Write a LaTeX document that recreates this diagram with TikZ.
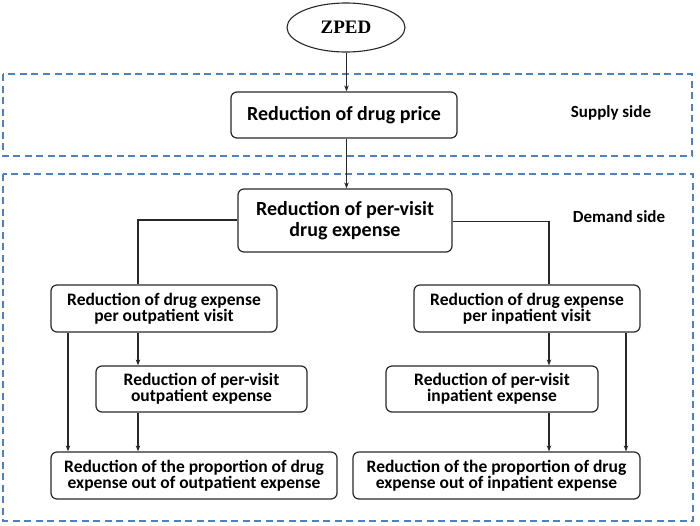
\documentclass[tikz,border=0pt]{standalone}
\usepackage{fontspec}
\setmainfont{Carlito}
\newfontfamily\zpedfont{Liberation Serif}
\usetikzlibrary{arrows.meta,shapes.geometric}
\definecolor{dashblue}{RGB}{79,129,189}
\definecolor{boxline}{RGB}{40,40,40}
\tikzset{
  every picture/.style={x=1pt,y=-1pt},
  stepbox/.style={draw=boxline,line width=1.2pt,rounded corners=6pt,inner sep=0pt,align=center,
    font=\fontsize{17.5}{14.5}\selectfont\bfseries},
  bigbox/.style={stepbox,font=\fontsize{20}{20.5}\selectfont\bfseries},
  region/.style={draw=dashblue,line width=1.3pt,dash pattern=on 7pt off 4.5pt},
  sidelabel/.style={font=\fontsize{17}{18}\selectfont\bfseries},
  conn/.style={draw=boxline,line width=1.1pt},
  arr/.style={conn,-{Stealth[length=6pt,width=4.5pt]}}
}
\begin{document}
\begin{tikzpicture}
\useasboundingbox (0,0) rectangle (700,525);
\fill[white] (0,0) rectangle (700,525);
% dashed regions
\draw[region] (3,74) rectangle (692,156);
\draw[region] (3,174) rectangle (693,521);
\node[sidelabel] (supply) at (611,113) {Supply side};
\node[sidelabel] (demand) at (619,217) {Demand side};
% nodes
\node[ellipse,draw=boxline,line width=1.1pt,minimum width=118pt,minimum height=49pt,inner sep=0pt,
  font=\fontsize{19}{20}\selectfont\zpedfont\bfseries] (zped) at (346,27.5) {ZPED};
\node[bigbox,minimum width=226pt,minimum height=46pt] (price) at (344,115) {Reduction of drug price};
\node[bigbox,minimum width=214pt,minimum height=63pt] (pervisit) at (345,220.5) {Reduction of per-visit\\drug expense};
\node[stepbox,minimum width=226pt,minimum height=47pt] (outvisit) at (164,308.5) {Reduction of drug expense\\per outpatient visit};
\node[stepbox,minimum width=226pt,minimum height=47pt] (invisit) at (527,308.5) {Reduction of drug expense\\per inpatient visit};
\node[stepbox,minimum width=211pt,minimum height=46pt] (outpv) at (201.5,389) {Reduction of per-visit\\outpatient expense};
\node[stepbox,minimum width=212pt,minimum height=46pt] (inpv) at (492,389) {Reduction of per-visit\\inpatient expense};
\node[stepbox,minimum width=286pt,minimum height=47pt] (outprop) at (194,475.5) {Reduction of the proportion of drug\\expense out of outpatient expense};
\node[stepbox,minimum width=287pt,minimum height=47pt] (inprop) at (496.5,475.5) {Reduction of the proportion of drug\\expense out of inpatient expense};
% helper x positions
\coordinate (llx) at (68,0);
\coordinate (lx) at (138,0);
\coordinate (rx) at (549,0);
\coordinate (rrx) at (626,0);
\coordinate (cx) at (346.5,0);
% connectors
\draw[arr] (zped.south -| cx) -- (price.north -| cx);
\draw[arr] (price.south -| cx) -- (pervisit.north -| cx);
\draw[conn] ([yshift=0.5pt]pervisit.west) -| (outvisit.north -| lx);
\draw[conn] ([yshift=-1pt]pervisit.east) -| (invisit.north -| rx);
\draw[arr] (outvisit.south -| lx) -- (outpv.north -| lx);
\draw[arr] (outpv.south -| lx) -- (outprop.north -| lx);
\draw[arr] (outvisit.south -| llx) -- (outprop.north -| llx);
\draw[arr] (invisit.south -| rx) -- (inpv.north -| rx);
\draw[arr] (inpv.south -| rx) -- (inprop.north -| rx);
\draw[arr] (invisit.south -| rrx) -- (inprop.north -| rrx);
\end{tikzpicture}
\end{document}
